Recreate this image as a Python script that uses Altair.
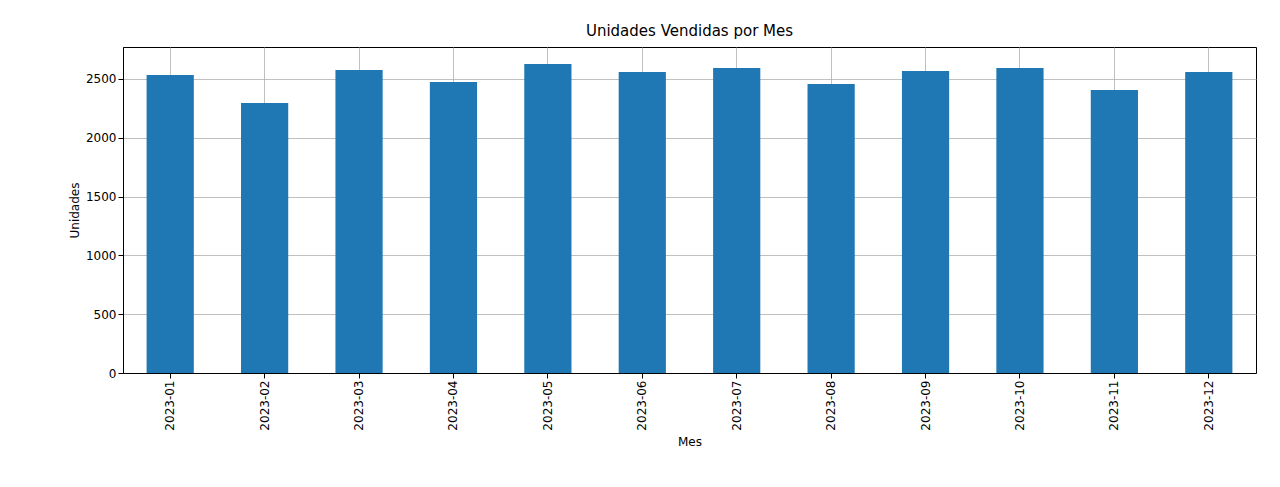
import pandas as pd
import altair as alt

meses = ["2023-01", "2023-02", "2023-03", "2023-04", "2023-05", "2023-06",
         "2023-07", "2023-08", "2023-09", "2023-10", "2023-11", "2023-12"]
unidades = [2534, 2296, 2577, 2474, 2628, 2560, 2594, 2457, 2568, 2594, 2406, 2560]

df = pd.DataFrame({"Mes": meses, "Unidades": unidades})

chart = alt.Chart(df).mark_bar(color="#1f77b4").encode(
    x=alt.X("Mes:N", title="Mes",
            scale=alt.Scale(paddingInner=0.5, paddingOuter=0.25),
            axis=alt.Axis(labelAngle=-90, bandPosition=0.5, grid=True, titlePadding=6)),
    y=alt.Y("Unidades:Q", title="Unidades",
            scale=alt.Scale(domain=[0, 2772], nice=False),
            axis=alt.Axis(values=[0, 500, 1000, 1500, 2000, 2500], format="d", grid=True)),
).properties(
    width=1133, height=326,
    title=alt.TitleParams("Unidades Vendidas por Mes", fontSize=15, fontWeight="normal",
                          font="DejaVu Sans", offset=8),
    autosize=alt.AutoSizeParams(type="none"),
    padding={"left": 115, "top": 39, "right": 10, "bottom": 110},
).configure_axis(
    labelFont="DejaVu Sans", titleFont="DejaVu Sans", labelFontSize=12,
    titleFontSize=12, titleFontWeight="normal", labelColor="black", titleColor="black",
    domainColor="black", tickColor="black", gridColor="#b0b0b0", gridWidth=0.8,
).configure_view(stroke="black", strokeWidth=1)

chart.save("out.html", embed_options={"renderer": "svg", "actions": False})
